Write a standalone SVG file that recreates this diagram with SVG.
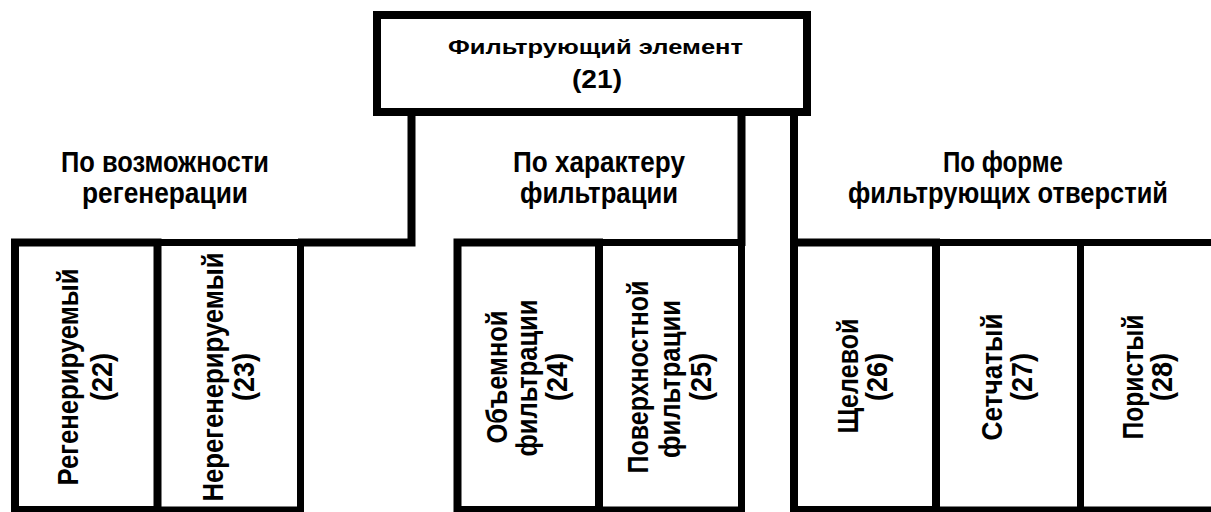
<svg xmlns="http://www.w3.org/2000/svg" width="1211" height="512" viewBox="0 0 1211 512">
<style>
.t{font-family:"Liberation Sans",Arial,sans-serif;font-weight:bold;fill:#000;text-anchor:middle}
.v{font-size:30px}
.h{font-size:30px}
.box{fill:#fff;stroke:#000;stroke-width:8}
.cell{fill:none;stroke:#000;stroke-width:7}
.conn{fill:none;stroke:#000;stroke-width:8}
</style>
<rect width="1211" height="512" fill="#fff"/>
<g id="connectors">
<path class="conn" d="M411.5 112 V242.5 H298"/>
<path class="conn" d="M741.5 112 V246"/>
<path class="conn" d="M794 112 V246"/>
</g>
<g id="n21">
<rect class="box" x="377" y="15" width="430" height="97"/>
<text class="t" x="595.5" y="54" font-size="21" textLength="295" lengthAdjust="spacingAndGlyphs">Фильтрующий элемент</text>
<text class="t" x="597" y="88" font-size="26" textLength="50" lengthAdjust="spacingAndGlyphs">(21)</text>
</g>
<g id="h-regen">
<text class="t h" x="165" y="172" textLength="208" lengthAdjust="spacingAndGlyphs">По возможности</text>
<text class="t h" x="165" y="203" textLength="166" lengthAdjust="spacingAndGlyphs">регенерации</text>
</g>
<g id="h-filtr">
<text class="t h" x="599" y="172" textLength="172" lengthAdjust="spacingAndGlyphs">По характеру</text>
<text class="t h" x="599" y="203" textLength="158" lengthAdjust="spacingAndGlyphs">фильтрации</text>
</g>
<g id="h-form">
<text class="t h" x="1003" y="172" textLength="120" lengthAdjust="spacingAndGlyphs">По форме</text>
<text class="t h" x="1008" y="203" textLength="320" lengthAdjust="spacingAndGlyphs">фильтрующих отверстий</text>
</g>
<g id="n22">
<rect class="cell" x="15" y="242.5" width="142.5" height="267.5" style="stroke-width:8"/>
<g transform="translate(78,377) rotate(-90)">
<text class="t v" x="0" y="0" textLength="217" lengthAdjust="spacingAndGlyphs">Регенерируемый</text>
<text class="t v" x="0" y="34" textLength="48" lengthAdjust="spacingAndGlyphs">(22)</text>
</g>
</g>
<g id="n23">
<rect class="cell" x="157.5" y="242.5" width="143" height="267.5"/>
<g transform="translate(223,377) rotate(-90)">
<text class="t v" x="0" y="0" textLength="249" lengthAdjust="spacingAndGlyphs">Нерегенерируемый</text>
<text class="t v" x="0" y="31" textLength="48" lengthAdjust="spacingAndGlyphs">(23)</text>
</g>
</g>
<g id="n24">
<rect class="cell" x="457.5" y="242.5" width="141.5" height="267.5" style="stroke-width:8"/>
<g transform="translate(507,377) rotate(-90)">
<text class="t v" x="0" y="0" textLength="133" lengthAdjust="spacingAndGlyphs">Объемной</text>
<text class="t v" x="-1" y="30" textLength="157" lengthAdjust="spacingAndGlyphs">фильтрации</text>
<text class="t v" x="0" y="60" textLength="48" lengthAdjust="spacingAndGlyphs">(24)</text>
</g>
</g>
<g id="n25">
<rect class="cell" x="599" y="242.5" width="142.5" height="267.5"/>
<g transform="translate(648,377) rotate(-90)">
<text class="t v" x="0" y="0" textLength="193" lengthAdjust="spacingAndGlyphs">Поверхностной</text>
<text class="t v" x="-2" y="32" textLength="158" lengthAdjust="spacingAndGlyphs">фильтрации</text>
<text class="t v" x="0" y="63" textLength="48" lengthAdjust="spacingAndGlyphs">(25)</text>
</g>
</g>
<g id="n26">
<rect class="cell" x="794" y="242.5" width="142" height="267.5" style="stroke-width:8"/>
<g transform="translate(858,377) rotate(-90)">
<text class="t v" x="1" y="0" textLength="115" lengthAdjust="spacingAndGlyphs">Щелевой</text>
<text class="t v" x="0" y="29" textLength="48" lengthAdjust="spacingAndGlyphs">(26)</text>
</g>
</g>
<g id="n27">
<rect class="cell" x="936" y="242.5" width="144.5" height="267.5"/>
<g transform="translate(1002,377) rotate(-90)">
<text class="t v" x="0" y="0" textLength="127" lengthAdjust="spacingAndGlyphs">Сетчатый</text>
<text class="t v" x="0" y="30" textLength="48" lengthAdjust="spacingAndGlyphs">(27)</text>
</g>
</g>
<g id="n28">
<rect class="cell" x="1080.5" y="242.5" width="140" height="267.5"/>
<g transform="translate(1143,377) rotate(-90)">
<text class="t v" x="0" y="0" textLength="125" lengthAdjust="spacingAndGlyphs">Пористый</text>
<text class="t v" x="0" y="29" textLength="48" lengthAdjust="spacingAndGlyphs">(28)</text>
</g>
</g>
</svg>
